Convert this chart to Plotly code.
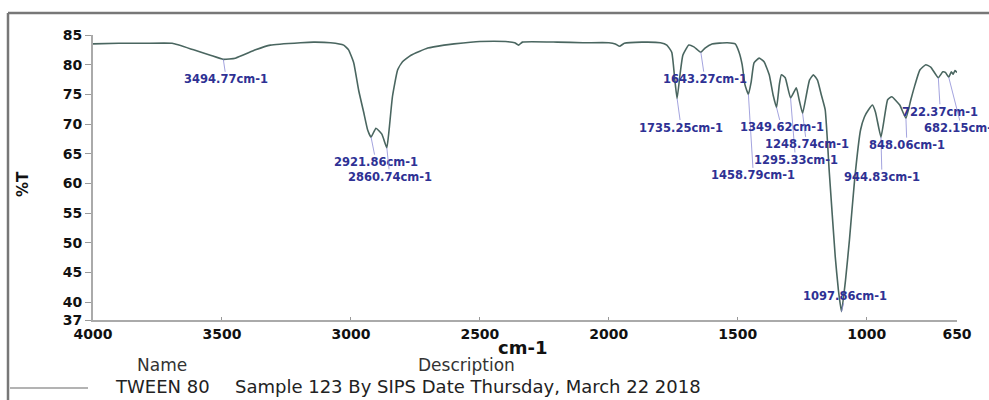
import plotly.graph_objects as go

# FTIR spectrum of TWEEN 80 (wavenumber in cm-1, transmittance in %T)
wavenumber = [
    4000, 3900, 3800, 3693, 3610, 3545, 3494.77, 3448, 3370, 3312,
    3195, 3145, 3079, 3028, 3009, 2989, 2970, 2950, 2935, 2921.86,
    2903, 2880, 2860.74, 2852, 2839, 2819, 2800, 2767, 2702, 2639,
    2600, 2500, 2400, 2365, 2350, 2335, 2200, 2100, 2000, 1975,
    1958, 1940, 1872, 1800, 1775, 1756, 1744, 1735.25, 1724, 1713,
    1690, 1670, 1643.27, 1627, 1600, 1541, 1510, 1495, 1483, 1472,
    1458.79, 1448, 1437, 1417, 1398, 1378, 1363, 1349.62, 1339, 1331,
    1316, 1295.33, 1273, 1262, 1248.74, 1234, 1222, 1207, 1191, 1176,
    1161, 1145, 1122, 1110, 1097.86, 1082, 1067, 1047, 1024, 1009,
    993, 978, 966, 944.83, 930, 919, 903, 872, 848.06, 829,
    813, 794, 771, 752, 722.37, 705, 695, 682.15, 672, 665,
    658, 650,
]
transmittance = [
    83.5, 83.6, 83.6, 83.6, 82.5, 81.6, 80.9, 81.1, 82.5, 83.3,
    83.7, 83.8, 83.7, 83.3, 82.5, 80.3, 75.7, 71.9, 69.0, 67.8,
    69.3, 68.3, 66.0, 69.0, 74.6, 79.1, 80.5, 81.6, 82.8, 83.3,
    83.5, 83.9, 83.9, 83.7, 83.3, 83.8, 83.8, 83.7, 83.7, 83.5,
    83.1, 83.6, 83.8, 83.7, 83.3, 82.1, 77.4, 74.3, 78.3, 81.6,
    83.3, 83.0, 82.1, 82.8, 83.5, 83.7, 83.5, 82.1, 80.0, 76.6,
    75.0, 77.1, 80.3, 81.1, 80.5, 78.3, 74.9, 72.8, 76.6, 78.3,
    77.8, 74.4, 76.1, 74.1, 71.8, 74.9, 77.4, 78.3, 77.4, 74.9,
    72.4, 61.8, 47.6, 42.1, 38.4, 43.8, 50.5, 60.6, 69.0, 71.2,
    72.4, 73.2, 72.0, 67.8, 71.5, 74.1, 74.6, 73.2, 71.0, 74.1,
    76.6, 79.1, 80.0, 79.6, 77.8, 78.8, 78.7, 77.9, 78.8, 78.4,
    79.0, 78.7,
]
assert len(wavenumber) == len(transmittance)

# Labelled absorption bands and where each label sits relative to its band (px)
peaks = [3494.77, 2921.86, 2860.74, 1735.25, 1643.27, 1458.79, 1349.62,
         1295.33, 1248.74, 1097.86, 944.83, 848.06, 722.37, 682.15]
label_dx = [3, 5, 3, 4, 4, 5, 5, 5, 4, 4, 1, 1, 2, 13]
label_dy = [20, 25, 29, 29, 27, 81, 20, 62, 31, -16, 40, 27, 34, 51]

x_ticks = [4000, 3500, 3000, 2500, 2000, 1500, 1000, 650]
y_ticks = [37, 40, 45, 50, 55, 60, 65, 70, 75, 80, 85]

sample_name = "TWEEN 80"
sample_desc = "Sample 123 By SIPS Date Thursday, March 22 2018"

W, H = 989, 400
ML, MR, MT, MB = 93, 32, 35, 80
PW, PH = W - ML - MR, H - MT - MB


def px(x):
    return (x - ML) / PW


def py(y):
    return (H - MB - y) / PH


BASE = "DejaVu Sans"
LABEL_BLUE = "#2e3194"
LEADER = "#8c8cd6"

fig = go.Figure()
fig.add_trace(go.Scatter(
    x=wavenumber, y=transmittance, mode="lines",
    line=dict(color="#4a6660", width=1.6, shape="spline", smoothing=0.4),
    showlegend=False, hoverinfo="skip",
))

annotations = []
lookup = dict(zip(wavenumber, transmittance))
for wn, dx, dy in zip(peaks, label_dx, label_dy):
    annotations.append(dict(
        x=wn, y=lookup[wn], xref="x", yref="y",
        text=f"<b>{wn:.2f}cm-1</b>", showarrow=True, arrowhead=0,
        arrowwidth=0.8, arrowcolor=LEADER, ax=dx, ay=dy,
        font=dict(family=BASE, size=11.5, color=LABEL_BLUE),
        borderpad=0, standoff=0,
    ))


def text_at(x, y, text, size, color, xanchor="center", angle=0):
    return dict(x=px(x), y=py(y), xref="paper", yref="paper", text=text,
                xanchor=xanchor, yanchor="middle", showarrow=False,
                textangle=angle, font=dict(family=BASE, size=size, color=color))


# axis titles and the sample description block
annotations += [
    text_at(522, 347, "<b>cm-1</b>", 18, "#111"),
    text_at(23, 184, "<b>%T</b>", 15, "#111", angle=-90),
    text_at(162, 365, "Name", 17, "#333"),
    text_at(466, 365, "Description", 17, "#333"),
    text_at(113, 386, sample_name, 18, "#222", xanchor="left"),
    text_at(233, 386, sample_desc, 18, "#222", xanchor="left"),
]

shapes = [
    # outer frame (top and left edges)
    dict(type="line", xref="paper", yref="paper", x0=px(8), x1=px(W + 5),
         y0=py(13), y1=py(13), line=dict(color="#777", width=2.5)),
    dict(type="line", xref="paper", yref="paper", x0=px(8), x1=px(8),
         y0=py(13), y1=py(H + 5), line=dict(color="#777", width=2.5)),
    # legend line sample
    dict(type="line", xref="paper", yref="paper", x0=px(10), x1=px(88),
         y0=py(388), y1=py(388), line=dict(color="#9a9a9a", width=1.5)),
]

fig.update_layout(
    width=W, height=H,
    margin=dict(l=ML, r=MR, t=MT, b=MB, pad=0),
    paper_bgcolor="white", plot_bgcolor="white",
    annotations=annotations, shapes=shapes,
    xaxis=dict(
        range=[4000, 650], tickmode="array", tickvals=x_ticks,
        ticks="inside", ticklen=3, tickcolor="#999",
        showline=True, linecolor="#aaa", linewidth=2,
        showgrid=False, zeroline=False,
        tickfont=dict(family=BASE, size=14, color="#111", weight="bold"),
    ),
    yaxis=dict(
        range=[37, 85], tickmode="array", tickvals=y_ticks,
        ticks="outside", ticklen=6, tickcolor="#999",
        showline=True, linecolor="#aaa", linewidth=2,
        showgrid=False, zeroline=False,
        tickfont=dict(family=BASE, size=14, color="#111", weight="bold"),
    ),
)

fig.write_html("out.html")
